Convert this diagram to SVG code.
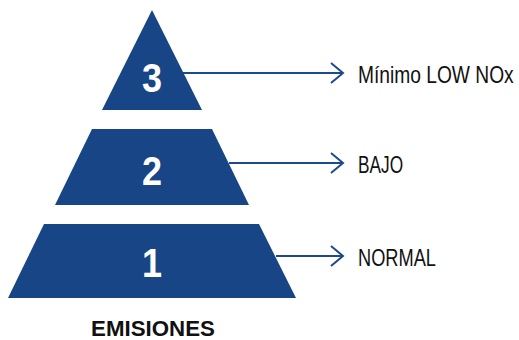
<svg xmlns="http://www.w3.org/2000/svg" width="519" height="340" viewBox="0 0 519 340">
<style>
.tier{fill:#184586}
.num{font-family:"Liberation Sans",sans-serif;font-weight:bold;font-size:40px;fill:#fff;text-anchor:middle}
.lbl{font-family:"Liberation Sans",sans-serif;font-size:24px;fill:#111}
.ttl{font-family:"Liberation Sans",sans-serif;font-weight:bold;font-size:23px;fill:#111;text-anchor:middle}
.conn{stroke:#1d4a8c;stroke-width:2;fill:none}
</style>
<defs>
<marker id="arr" markerUnits="userSpaceOnUse" markerWidth="16" markerHeight="24" refX="13" refY="11" orient="auto">
<path d="M1,1 L13,11 L1,21" fill="none" stroke="#1d4a8c" stroke-width="2"/>
</marker>
</defs>
<g id="tier3">
<polygon class="tier" points="152,10 202,110 102,110"/>
<text class="num" transform="translate(152,92) scale(0.9,1)">3</text>
</g>
<g id="tier2">
<polygon class="tier" points="92,129 212,129 249,205 55,205"/>
<text class="num" transform="translate(152,185) scale(0.9,1)">2</text>
</g>
<g id="tier1">
<polygon class="tier" points="44,224 259,224 296,298 8,298"/>
<text class="num" transform="translate(152,277) scale(0.9,1)">1</text>
</g>
<g id="connectors">
<line class="conn" x1="183" y1="73" x2="343" y2="73" marker-end="url(#arr)"/>
<line class="conn" x1="229" y1="163" x2="343" y2="163" marker-end="url(#arr)"/>
<line class="conn" x1="276" y1="256" x2="343" y2="256" marker-end="url(#arr)"/>
</g>
<g id="labels">
<text class="lbl" transform="translate(358,83) scale(0.8,1)">Mínimo LOW NOx</text>
<text class="lbl" transform="translate(358,173) scale(0.72,1)">BAJO</text>
<text class="lbl" transform="translate(358,266) scale(0.76,1)">NORMAL</text>
</g>
<text class="ttl" transform="translate(153,336) scale(0.97,1)">EMISIONES</text>
</svg>
